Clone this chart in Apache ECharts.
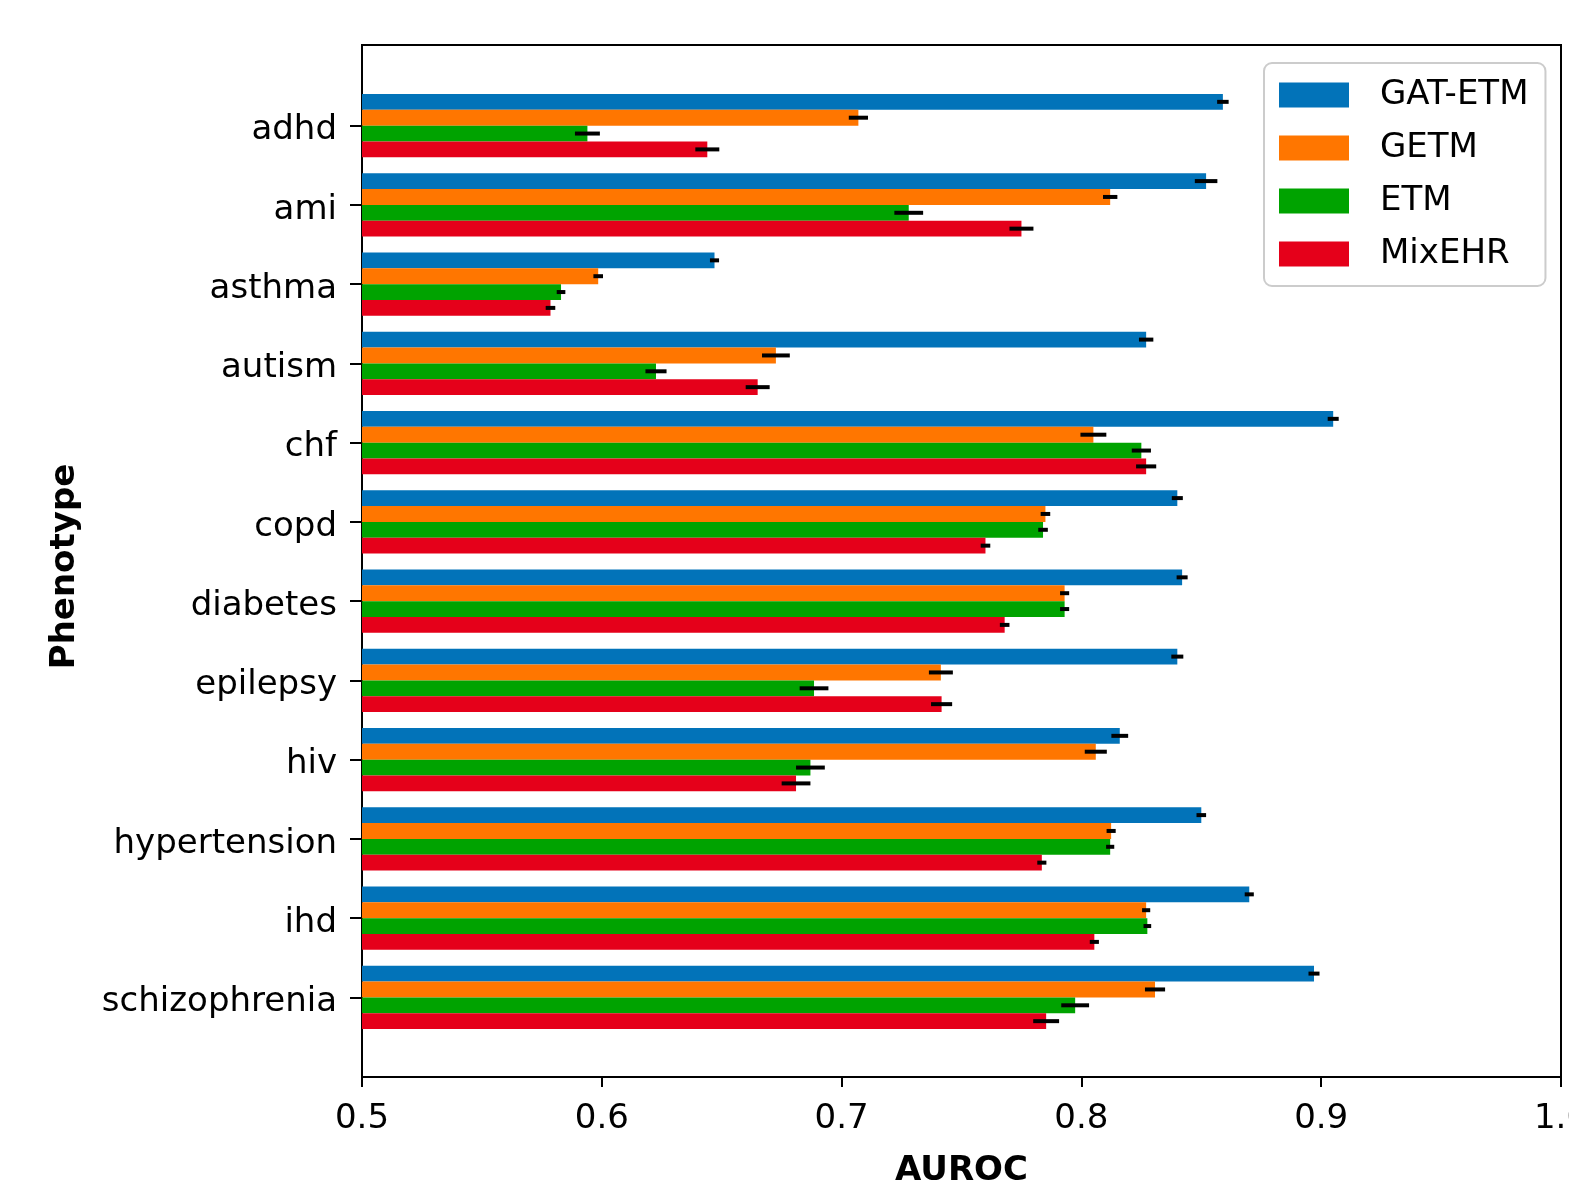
<!DOCTYPE html>
<html>
<head>
<meta charset="utf-8">
<script src="https://cdn.jsdelivr.net/npm/echarts@6/dist/echarts.min.js"></script>
<style>
body{margin:0;background:#fff;}
#myChart{width:1569px;height:1184px;}
</style>
</head>
<body>
<div id="myChart"></div>
<script>
/*数据*/
var categories = ['adhd','ami','asthma','autism','chf','copd','diabetes','epilepsy','hiv','hypertension','ihd','schizophrenia'];
var seriesNames = ['GAT-ETM','GETM','ETM','MixEHR'];
var colors = ['#0273b9','#ff7600','#00a300','#e5001a'];

var gatEtm = [0.859,0.852,0.647,0.827,0.905,0.840,0.842,0.840,0.816,0.850,0.870,0.897];
var getm   = [0.707,0.812,0.5985,0.6726,0.805,0.785,0.793,0.7414,0.806,0.8124,0.827,0.8307];
var etm    = [0.594,0.728,0.583,0.6226,0.825,0.784,0.793,0.6885,0.687,0.812,0.8275,0.7974];
var mixehr = [0.644,0.775,0.5786,0.665,0.827,0.760,0.768,0.7417,0.681,0.7835,0.8054,0.7853];

var gatEtmErr = [0.0024,0.0047,0.0019,0.003,0.0023,0.0023,0.0023,0.0025,0.0035,0.002,0.0019,0.0023];
var getmErr   = [0.004,0.003,0.002,0.0058,0.0054,0.002,0.0019,0.005,0.0046,0.0019,0.0017,0.0042];
var etmErr    = [0.0052,0.006,0.0018,0.0044,0.004,0.002,0.0019,0.006,0.006,0.0017,0.0016,0.0058];
var mixehrErr = [0.005,0.005,0.002,0.005,0.0042,0.002,0.002,0.0044,0.006,0.0019,0.0019,0.0054];

var xTicks = [0.5,0.6,0.7,0.8,0.9,1.0];

var values = [gatEtm,getm,etm,mixehr];
var errs = [gatEtmErr,getmErr,etmErr,mixehrErr];
var font = 'DejaVu Sans';

var myChart = echarts.init(document.getElementById('myChart'));

var series = [];
for (var k = 0; k < values.length; k++) {
    series.push({
        type: 'bar',
        name: seriesNames[k],
        xAxisIndex: 1,
        yAxisIndex: 1,
        data: values[k],
        barWidth: '20%',
        barGap: '0%',
        itemStyle: {color: colors[k]},
        silent: true
    });
}
/*误差线*/
for (var k = 0; k < values.length; k++) {
    var d = [];
    for (var i = 0; i < categories.length; i++) {
        d.push([values[k][i], i, errs[k][i], k]);
    }
    series.push({
        type: 'custom',
        xAxisIndex: 1,
        yAxisIndex: 1,
        data: d,
        encode: {x: 0, y: 1},
        silent: true,
        z: 10,
        renderItem: function(params, api){
            var v = api.value(0), c = api.value(1), e = api.value(2), idx = api.value(3);
            var lo = api.coord([v - e, c]);
            var hi = api.coord([v + e, c]);
            var band = api.size([0, 1])[1];
            var y = lo[1] + (idx - 1.5) * 0.2 * band;
            return {
                type: 'line',
                shape: {x1: lo[0], y1: y, x2: hi[0], y2: y},
                style: {stroke: '#000', lineWidth: 4}
            };
        }
    });
}

myChart.setOption({
    animation: false,
    textStyle: {fontFamily: font},
    grid: [
        {left: 362, top: 45, width: 1199, height: 1032, outerBoundsMode: 'none', containLabel: false,
            show: true, borderColor: '#000', borderWidth: 2, backgroundColor: 'transparent'},
        {left: 362, top: 86, width: 1199, height: 951, outerBoundsMode: 'none', containLabel: false}
    ],
    legend: {
        data: seriesNames,
        orient: 'vertical',
        left: 1264,
        top: 63,
        padding: [15, 17, 15, 15],
        itemWidth: 70,
        itemHeight: 25,
        itemGap: 19,
        icon: 'rect',
        borderColor: '#cccccc',
        borderWidth: 2,
        borderRadius: 8,
        backgroundColor: 'rgba(255,255,255,0.8)',
        textStyle: {fontSize: 34, color: '#000', fontFamily: font, lineHeight: 34, padding: [0, 0, 0, 26]}
    },
    xAxis: [
        {
            type: 'value', gridIndex: 0, min: 0.5, max: 1.0, interval: 0.1,
            name: 'AUROC', nameLocation: 'middle', nameGap: 77,
            nameTextStyle: {fontSize: 34, fontWeight: 'bold', color: '#000', fontFamily: font},
            axisLine: {show: true, lineStyle: {color: '#000', width: 2}},
            axisTick: {show: true, length: 10, lineStyle: {color: '#000', width: 2}},
            axisLabel: {fontSize: 34, color: '#000', margin: 25, fontFamily: font,
                formatter: function(v){ return v.toFixed(1); }},
            splitLine: {show: false}
        },
        {
            type: 'value', gridIndex: 1, min: 0.5, max: 1.0,
            show: false, splitLine: {show: false}
        }
    ],
    yAxis: [
        {type: 'value', gridIndex: 0, show: false, splitLine: {show: false}},
        {
            type: 'category', gridIndex: 1, data: categories, inverse: true,
            name: 'Phenotype', nameLocation: 'middle', nameGap: 280, nameRotate: 90,
            nameTextStyle: {fontSize: 34, fontWeight: 'bold', color: '#000', fontFamily: font, padding: [0, 10, 0, 0]},
            axisLine: {show: false},
            axisTick: {show: true, alignWithLabel: true, length: 12, lineStyle: {color: '#000', width: 2}},
            axisLabel: {fontSize: 34, color: '#000', margin: 25, fontFamily: font,
                verticalAlign: 'top', lineHeight: 10}
        }
    ],
    series: series
});
</script>
</body>
</html>
